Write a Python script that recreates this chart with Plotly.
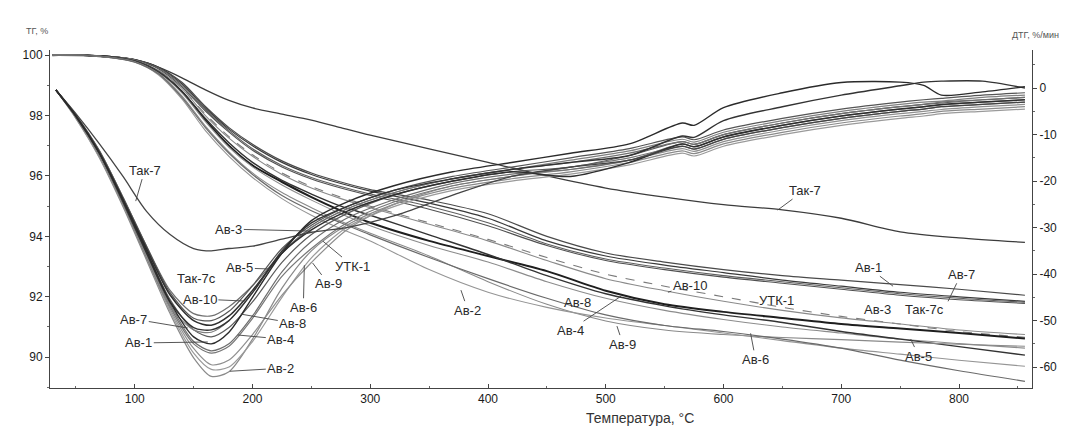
import plotly.graph_objects as go

# ---------------- data ----------------
T_TG = [30, 60, 80, 100, 120, 140, 160, 180, 200, 225, 250, 275, 300, 350, 400, 450, 500, 550, 600, 650, 700, 750, 800, 856]

TG_TAK7 = [100, 99.99, 99.95, 99.85, 99.6, 99.25, 98.85, 98.5, 98.25, 98.05, 97.85, 97.6, 97.35, 96.9, 96.45, 96.0, 95.6, 95.3, 95.05, 94.88, 94.6, 94.15, 93.95, 93.8]
TG_AV1 = [100, 99.99, 99.95, 99.85, 99.6, 99.1, 98.3, 97.6, 97.05, 96.5, 96.1, 95.8, 95.55, 95.2, 94.75, 94.0, 93.45, 93.15, 92.9, 92.7, 92.55, 92.4, 92.25, 92.05]
TG_AV7 = [100, 99.99, 99.95, 99.85, 99.6, 99.05, 98.25, 97.55, 97.0, 96.45, 96.05, 95.75, 95.5, 95.1, 94.6, 93.85, 93.35, 93.05, 92.8, 92.55, 92.35, 92.15, 92.0, 91.85]
TG_AV3 = [100, 99.99, 99.95, 99.84, 99.58, 99.0, 98.2, 97.5, 96.9, 96.35, 95.95, 95.65, 95.4, 95.0, 94.45, 93.75, 93.25, 92.95, 92.7, 92.5, 92.3, 92.1, 91.95, 91.82]
TG_TAK7C = [100, 99.99, 99.95, 99.84, 99.55, 98.95, 98.15, 97.45, 96.85, 96.3, 95.9, 95.6, 95.35, 94.9, 94.35, 93.7, 93.2, 92.9, 92.65, 92.45, 92.25, 92.05, 91.9, 91.78]
TG_UTK1 = [100, 99.99, 99.94, 99.83, 99.5, 98.9, 98.05, 97.3, 96.7, 96.1, 95.65, 95.3, 95.0, 94.45, 93.9, 93.3, 92.75, 92.35, 92.0, 91.65, 91.35, 91.1, 90.85, 90.66]
TG_AV10 = [100, 99.99, 99.94, 99.83, 99.5, 98.9, 98.0, 97.25, 96.65, 96.05, 95.6, 95.25, 94.95, 94.4, 93.85, 93.2, 92.6, 92.2, 91.85, 91.55, 91.3, 91.1, 90.9, 90.75]
TG_AV4 = [100, 99.99, 99.93, 99.8, 99.45, 98.8, 97.85, 97.0, 96.35, 95.8, 95.3, 94.85, 94.45, 93.85, 93.35, 92.85, 92.2, 91.75, 91.5, 91.3, 91.1, 90.95, 90.8, 90.62]
TG_AV8 = [100, 99.99, 99.93, 99.8, 99.45, 98.75, 97.8, 96.95, 96.3, 95.7, 95.2, 94.75, 94.35, 93.7, 93.15, 92.5, 91.95, 91.55, 91.25, 91.0, 90.8, 90.6, 90.45, 90.3]
TG_AV5 = [100, 99.99, 99.93, 99.8, 99.45, 98.8, 97.9, 97.1, 96.45, 95.85, 95.4, 95.0, 94.7, 94.05, 93.4, 92.7, 92.1, 91.7, 91.4, 91.15, 90.85, 90.6, 90.35, 90.07]
TG_AV9 = [100, 99.99, 99.92, 99.78, 99.4, 98.65, 97.65, 96.8, 96.1, 95.45, 94.95, 94.5, 94.1, 93.35, 92.5, 91.75, 91.2, 90.9, 90.75, 90.65, 90.58, 90.5, 90.43, 90.36]
TG_AV2 = [100, 99.99, 99.92, 99.77, 99.35, 98.55, 97.5, 96.65, 95.95, 95.25, 94.7, 94.25, 93.85, 92.9, 92.15, 91.65, 91.3, 91.05, 90.8, 90.55, 90.3, 90.1, 89.9, 89.7]
TG_AV6 = [100, 99.99, 99.92, 99.77, 99.38, 98.6, 97.6, 96.75, 96.05, 95.35, 94.85, 94.45, 94.05, 93.3, 92.6, 91.95, 91.4, 91.05, 90.85, 90.6, 90.3, 89.9, 89.55, 89.2]

T_DTG = [33, 50, 70, 90, 110, 130, 150, 165, 180, 200, 225, 250, 280, 320, 370, 420, 470, 520, 565, 575, 600, 650, 700, 750, 770, 785, 820, 856]

DTG_AV1 = [-0.4, -6, -14, -24, -35, -46, -53.5, -55, -52.5, -45, -35.5, -28.5, -24.5, -21, -18, -16, -14, -12, -7.5, -8.0, -4.2, -1, 1.2, 1.3, 0.6, -1.5, -0.8, 0.3]
DTG_AV3 = [-0.4, -6, -14, -24.5, -35.5, -46, -51.5, -52, -50, -44, -35, -29, -25.5, -22, -19.5, -17.5, -16, -14.5, -10.3, -10.6, -7, -4, -1.5, 0.5, 1.3, 1.5, 1.5, 0]
DTG_TAK7 = [-0.4, -5.5, -12, -19, -26.5, -31.5, -34.5, -35, -34.5, -34, -32.5, -31, -30, -27.5, -23, -19, -17, -15.5, -12.5, -13.1, -11, -8.5, -6.5, -5, -4.5, -4, -3.5, -3]
DTG_AV2 = [-0.4, -6.5, -15, -25.5, -37, -48.5, -58, -62, -61, -54, -43, -35, -29.5, -25, -21.5, -19.5, -18, -16, -13.5, -14.1, -12, -9.5, -7.5, -6, -5.5, -5, -4.5, -4]
DTG_AV6 = [-0.4, -6.5, -14.8, -25, -36.5, -48, -57, -60.5, -60, -54.5, -45, -36.5, -30, -25.5, -22, -20, -18.5, -16.5, -14, -14.6, -12.5, -10, -8, -6.5, -6, -5.5, -5, -4.5]
DTG_AV9 = [-0.4, -6.3, -14.5, -24.8, -36, -47.5, -56, -59.5, -58.5, -53, -44.5, -37.5, -30.5, -25, -21, -19, -17.5, -15.5, -13, -13.6, -11.5, -9, -7, -5.5, -5, -4.6, -4, -3.5]
DTG_UTK1 = [-0.4, -6.2, -14.5, -24.5, -35.5, -47, -55, -57, -55.5, -49.5, -40.5, -34.5, -29, -24.5, -21, -19, -17, -15, -12.5, -13.1, -11, -8.5, -6.5, -5, -4.5, -4, -3.5, -3]
DTG_AV4 = [-0.4, -6.2, -14.3, -24.3, -35.3, -46.5, -54.5, -56.5, -55, -49, -39.5, -33, -28, -24, -20.5, -18.5, -17.5, -15.5, -12, -12.6, -10.5, -8, -6, -4.5, -4, -3.6, -3, -2.5]
DTG_AV8 = [-0.4, -6, -14, -24, -35, -45.5, -52, -53.5, -51.5, -46, -37.5, -31.5, -27, -23, -20, -18, -17, -14.5, -11.5, -12.1, -10, -7.5, -5.5, -4, -3.5, -3.2, -2.5, -2]
DTG_AV7 = [-0.4, -6.2, -14.5, -25, -36.5, -47, -52, -52.5, -50, -44, -35.5, -30, -26, -22.5, -19.5, -17.5, -15.5, -13.5, -11, -11.6, -9.5, -7, -5, -3.5, -3, -2.8, -2, -1.5]
DTG_AV10 = [-0.4, -6, -14, -24, -34.5, -44.5, -50, -51, -49, -43.5, -35.5, -30.5, -26.5, -23, -20, -18, -19, -16, -12, -12.6, -10.5, -8, -6, -4.5, -4, -3.5, -3, -2.5]
DTG_TAK7C = [-0.4, -5.8, -13.5, -23.5, -34, -44, -49.5, -50, -48, -42.5, -34.5, -29.5, -25.5, -22, -19, -17, -15, -13, -10.5, -11.1, -9, -6.5, -4.5, -3, -2.5, -2.2, -1.5, -1]
DTG_AV5 = [-0.4, -5.8, -13.5, -23.5, -34, -43.5, -48.5, -49, -47, -42.5, -35.5, -30, -26, -22.5, -19.5, -17.5, -16, -14, -11.5, -12.1, -10, -7.5, -5.5, -4, -3.5, -3, -2.5, -2]

X_TICKS = [100, 200, 300, 400, 500, 600, 700, 800]
TG_TICKS = [90, 92, 94, 96, 98, 100]
DTG_TICKS = [0, -10, -20, -30, -40, -50, -60]

# ---------------- figure ----------------
fig = go.Figure()

tg_series = [
    ("Так-7", TG_TAK7, "#3c3c3c", 1.3, "solid"),
    ("Ав-1", TG_AV1, "#4a4a4a", 1.2, "solid"),
    ("Ав-7", TG_AV7, "#3a3a3a", 1.2, "solid"),
    ("Ав-3", TG_AV3, "#5e5e5e", 1.1, "solid"),
    ("Так-7с", TG_TAK7C, "#505050", 1.1, "solid"),
    ("УТК-1", TG_UTK1, "#7a7a7a", 1.1, "dash"),
    ("Ав-10", TG_AV10, "#8a8a8a", 1.1, "solid"),
    ("Ав-4", TG_AV4, "#1e1e1e", 2.0, "solid"),
    ("Ав-8", TG_AV8, "#8c8c8c", 1.1, "solid"),
    ("Ав-5", TG_AV5, "#333333", 1.4, "solid"),
    ("Ав-9", TG_AV9, "#8a8a8a", 1.1, "solid"),
    ("Ав-2", TG_AV2, "#959595", 1.1, "solid"),
    ("Ав-6", TG_AV6, "#6a6a6a", 1.2, "solid"),
]
for name, vals, col, w, dash in tg_series:
    fig.add_trace(go.Scatter(x=T_TG, y=vals, mode="lines", name="ТГ " + name,
                             line=dict(color=col, width=w, dash=dash, shape="spline", smoothing=0.8),
                             yaxis="y", showlegend=False, hoverinfo="skip"))

dtg_series = [
    ("Ав-2", DTG_AV2, "#8a8a8a", 1.2),
    ("Ав-6", DTG_AV6, "#9a9a9a", 1.2),
    ("Ав-9", DTG_AV9, "#8f8f8f", 1.2),
    ("УТК-1", DTG_UTK1, "#777777", 1.2),
    ("Ав-4", DTG_AV4, "#6e6e6e", 1.2),
    ("Ав-8", DTG_AV8, "#5a5a5a", 1.2),
    ("Ав-7", DTG_AV7, "#808080", 1.2),
    ("Ав-5", DTG_AV5, "#707070", 1.2),
    ("Так-7с", DTG_TAK7C, "#555555", 1.2),
    ("Ав-10", DTG_AV10, "#2e2e2e", 1.5),
    ("Так-7", DTG_TAK7, "#444444", 1.3),
    ("Ав-3", DTG_AV3, "#333333", 1.4),
    ("Ав-1", DTG_AV1, "#2b2b2b", 1.4),
]
for name, vals, col, w in dtg_series:
    fig.add_trace(go.Scatter(x=T_DTG, y=vals, mode="lines", name="ДТГ " + name,
                             line=dict(color=col, width=w, shape="spline", smoothing=0.8),
                             yaxis="y2", showlegend=False, hoverinfo="skip"))

LF = dict(family="Arial, Liberation Sans, sans-serif", size=13, color="#2a2a2a")
ann = []

def lab(text, x, y, ax, ay, yref="y", arrow=True):
    d = dict(text=text, x=x, y=y, xref="x", yref=yref, font=LF, showarrow=arrow)
    if arrow:
        d.update(ax=ax, ay=ay, arrowhead=0, arrowwidth=0.9, arrowcolor="#444", standoff=0, startstandoff=0)
    ann.append(d)

# DTG labels (left cluster)
lab("Так-7", 100.8, -24.3, 9, -31, "y2")
lab("Ав-3", 249.5, -30.75, -82, -2, "y2")
lab("Ав-5", 214.7, -38.9, -30, -1, "y2")
lab("Так-7с", 152.7, -40.9, 0, 0, "y2", arrow=False)
lab("Ав-10", 193.5, -45.8, -45, -2, "y2")
lab("Ав-7", 145, -51.6, -54, -9, "y2")
lab("Ав-1", 162, -54.6, -69, 1, "y2")
lab("Ав-8", 190, -48.6, 52, 9, "y2")
lab("Ав-4", 187.5, -53.1, 43, 4, "y2")
lab("Ав-2", 180.7, -60.9, 51, -3, "y2")
lab("Ав-6", 244, -38.1, -1, 42, "y2")
lab("Ав-9", 251, -37.6, 16, 21, "y2")
lab("УТК-1", 259.7, -32.9, 30, 25, "y2")
# TG labels
lab("Так-7", 646, 94.87, 27, -20)
lab("Ав-2", 377, 92.22, 7, 20)
lab("Ав-8", 485, 92.12, -11, 9)
lab("Ав-4", 513, 92.02, -51, 34)
lab("Ав-9", 509.5, 91.03, 6, 18)
lab("Ав-10", 552.8, 92.15, 22, -7)
lab("УТК-1", 631.8, 91.62, 16, -8)
lab("Ав-6", 623, 90.79, 5, 26)
lab("Ав-5", 759, 90.6, 8, 17)
lab("Ав-1", 744, 92.35, -25, -19)
lab("Ав-7", 790.7, 91.85, 13, -27)
lab("Ав-3", 731.2, 91.59, 0, 0, arrow=False)
lab("Так-7с", 770.3, 91.59, 0, 0, arrow=False)

# axis titles
ann.append(dict(text="ТГ, %", xref="paper", yref="paper", x=-0.013, y=1.055, showarrow=False,
                xanchor="center", yanchor="middle",
                font=dict(family="Arial, sans-serif", size=9, color="#555")))
ann.append(dict(text="ДТГ, %/мин", xref="paper", yref="paper", x=1.03, y=1.043, showarrow=False,
                xanchor="right", yanchor="middle",
                font=dict(family="Arial, sans-serif", size=9, color="#555")))
ann.append(dict(text="Температура, °C", xref="paper", yref="paper", x=0.601, y=-0.088, showarrow=False,
                xanchor="center", yanchor="middle",
                font=dict(family="Arial, sans-serif", size=14, color="#333")))

TF = dict(family="Arial, Liberation Sans, sans-serif", size=12, color="#1a1a1a")
fig.update_layout(
    width=1072, height=426,
    margin=dict(l=42, r=48, t=42, b=46),
    paper_bgcolor="white", plot_bgcolor="white",
    showlegend=False,
    annotations=ann,
    xaxis=dict(range=[28, 862], tickvals=X_TICKS, ticktext=[str(v) for v in X_TICKS],
               showgrid=False, zeroline=False, showline=True, linecolor="#444", linewidth=1,
               ticks="inside", ticklen=4, tickcolor="#444", tickfont=TF,
               minor=dict(dtick=50, tick0=0, ticks="inside", ticklen=2, tickcolor="#666")),
    yaxis=dict(range=[88.98, 100.17], tickvals=TG_TICKS, ticktext=[str(v) for v in TG_TICKS],
               showgrid=False, zeroline=False, showline=True, linecolor="#444", linewidth=1,
               ticks="outside", ticklen=4, tickcolor="#444", tickfont=TF,
               minor=dict(dtick=1, tick0=0, ticks="outside", ticklen=2, tickcolor="#666")),
    yaxis2=dict(range=[-64.5, 8.2], overlaying="y", side="right", tickvals=DTG_TICKS,
                ticktext=[str(v) if v == 0 else "-" + str(-v) for v in DTG_TICKS],
                showgrid=False, zeroline=False, showline=True, linecolor="#444", linewidth=1,
                ticks="outside", ticklen=4, tickcolor="#444", tickfont=TF,
                minor=dict(dtick=5, tick0=0, ticks="outside", ticklen=2, tickcolor="#666")),
)

fig.write_html("out.html")
